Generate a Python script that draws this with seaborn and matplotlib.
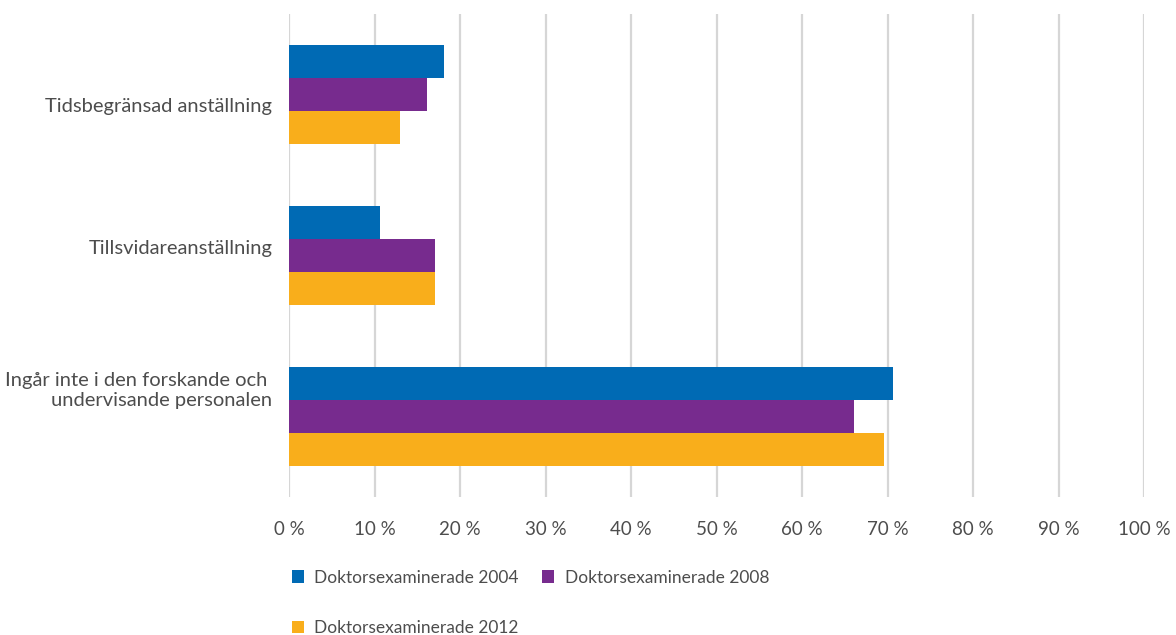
import matplotlib
matplotlib.use("Agg")
import matplotlib.pyplot as plt
import matplotlib.transforms as mtransforms
from matplotlib.patches import Patch
import pandas as pd
import seaborn as sns

categories = [
    "Tidsbegränsad anställning",
    "Tillsvidareanställning",
    "Ingår inte i den forskande och \nundervisande personalen",
]
series_names = ["Doktorsexaminerade 2004", "Doktorsexaminerade 2008", "Doktorsexaminerade 2012"]
values_2004 = [18.1, 10.6, 70.7]
values_2008 = [16.1, 17.1, 66.1]
values_2012 = [13.0, 17.1, 69.6]
tick_values = list(range(0, 101, 10))
tick_labels = [f"{v} %" for v in tick_values]
colors = ["#006AB4", "#772B8E", "#F9AE1B"]

rows = []
for name, vals in zip(series_names, [values_2004, values_2008, values_2012]):
    for cat, v in zip(categories, vals):
        rows.append({"kategori": cat, "serie": name, "andel": v})
df = pd.DataFrame(rows)

sns.set_theme(style="white")
plt.rcParams["font.family"] = ["Lato", "DejaVu Sans"]
text_color = "#4d4d4d"

fig = plt.figure(figsize=(11.76, 6.35), dpi=100)
ax = fig.add_axes([289 / 1176, 1 - 497 / 635, (1144 - 289) / 1176, (497 - 14) / 635])

sns.barplot(
    data=df, x="andel", y="kategori", hue="serie", orient="h",
    palette=colors, width=0.62, dodge=True, saturation=1, legend=False,
    edgecolor="none", ax=ax, zorder=3,
)

ax.set_xlim(0, 100)
ax.set_ylim(2.5, -0.5)
ax.set_xticks(tick_values)
ax.set_xticklabels(tick_labels)
ax.set_xlabel("")
ax.set_ylabel("")
for spine in ax.spines.values():
    spine.set_visible(False)
for v in tick_values:
    ax.axvline(v, color="#d6d6d6", lw=1.6, zorder=1)
ax.tick_params(axis="x", length=0, pad=17, labelsize=13.5, labelcolor=text_color)
ax.tick_params(axis="y", length=0, pad=12, labelsize=14.5, labelcolor=text_color)

# category labels sit on an evenly spaced column slightly tighter than the bar groups
label_shift_px = [-10, 9, 29]
for lbl, dy in zip(ax.get_yticklabels(), label_shift_px):
    lbl.set_multialignment("right")
    lbl.set_linespacing(1.2)
    lbl.set_transform(lbl.get_transform() + mtransforms.ScaledTranslation(0, dy / 100, fig.dpi_scale_trans))

# two-column legend filled column-wise: 2004 and 2012 in the first column, 2008 in the second
order = [0, 2, 1]
handles = [Patch(facecolor=colors[i], edgecolor="none") for i in order]
labels = [series_names[i] for i in order]
leg = fig.legend(
    handles, labels, ncol=2, loc="upper left",
    bbox_to_anchor=(276 / 1176, 1 - 554 / 635), frameon=False,
    fontsize=12.5, handlelength=0.7, handleheight=0.7, handletextpad=0.6,
    columnspacing=1.35, labelspacing=1.98, labelcolor=text_color,
)

fig.savefig("out.png", dpi=100, facecolor="white")
